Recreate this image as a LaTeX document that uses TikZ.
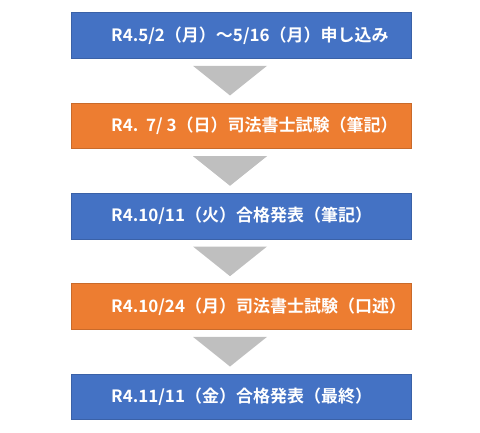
\documentclass[tikz,border=0pt]{standalone}
\usepackage{fontspec}
\setmainfont{Noto Sans CJK JP}[BoldFont={* Bold}]
\newfontfamily\jpb{Noto Sans CJK JP Bold}
\definecolor{boxblue}{HTML}{4472C4}
\definecolor{boxorange}{HTML}{ED7D31}
\definecolor{arrgray}{HTML}{BFBFBF}
\begin{document}
\begin{tikzpicture}[x=1pt,y=-1pt,
  stage/.style={minimum width=340pt,minimum height=45.6pt,inner sep=0pt,draw=#1!85!black,line width=0.6pt,fill=#1},
  lbl/.style={anchor=west,text=white,font=\jpb\fontsize{17}{20}\selectfont,inner sep=0pt},
  arr/.style={fill=arrgray,draw=none}]
\useasboundingbox (0,0) rectangle (480,432);
\foreach \i/\c/\t in {0/boxblue/{R4.5/2（月）～5/16（月）申し込み},
                     1/boxorange/{R4.\ \ 7/\ 3（日）司法書士試験（筆記）},
                     2/boxblue/{R4.10/11（火）合格発表（筆記）},
                     3/boxorange/{R4.10/24（月）司法書士試験（口述）},
                     4/boxblue/{R4.11/11（金）合格発表（最終）}}{
  \pgfmathsetmacro{\yc}{12.7+22.8+90.35*\i}
  \node[stage=\c] (b\i) at (241.6,\yc) {};
  \node[lbl] (t\i) at (111,\yc) {\t};
}
\foreach \i in {0,1,2,3}{
  \pgfmathsetmacro{\yt}{12.7+45.6+7.5+90.35*\i}
  \pgfmathsetmacro{\yb}{12.7+90.35*(\i+1)-7.6}
  \fill[arr] (193,\yt) -- (267,\yt) -- (230,\yb) -- cycle;
}
\end{tikzpicture}
\end{document}
